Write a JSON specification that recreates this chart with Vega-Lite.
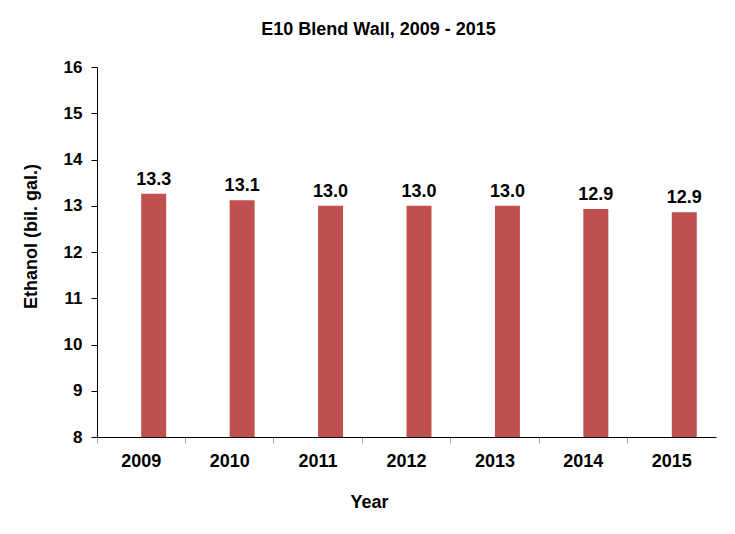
{
  "$schema": "https://vega.github.io/schema/vega-lite/v6.json",
  "autosize": {"type": "none"},
  "width": 619,
  "height": 370,
  "padding": {"left": 97, "top": 67, "right": 19, "bottom": 97},
  "background": "white",
  "title": {
    "text": "E10 Blend Wall, 2009 - 2015",
    "font": "Liberation Sans",
    "fontSize": 18,
    "fontWeight": "bold",
    "color": "black",
    "anchor": "middle",
    "frame": "group",
    "dx": -28,
    "baseline": "alphabetic",
    "offset": 5
  },
  "data": {
    "values": [
      {"year": "2009", "ethanol": 13.26},
      {"year": "2010", "ethanol": 13.12},
      {"year": "2011", "ethanol": 13.0},
      {"year": "2012", "ethanol": 13.0},
      {"year": "2013", "ethanol": 13.0},
      {"year": "2014", "ethanol": 12.93},
      {"year": "2015", "ethanol": 12.86}
    ]
  },
  "encoding": {
    "x": {
      "field": "year",
      "type": "ordinal",
      "scale": {"paddingInner": 0, "paddingOuter": 0},
      "axis": {
        "title": "Year",
        "labelAngle": 0,
        "bandPosition": 0,
        "labelFont": "Liberation Sans",
        "labelFontSize": 18,
        "labelFontWeight": "bold",
        "labelColor": "black",
        "labelPadding": 9,
        "tickSize": 6,
        "tickColor": "#a6a6a6",
        "domainColor": "black",
        "titleFont": "Liberation Sans",
        "titleFontSize": 18,
        "titleFontWeight": "bold",
        "titleColor": "black",
        "titleX": 272,
        "titleY": 70,
        "titleAlign": "center",
        "titleBaseline": "alphabetic",
        "grid": false
      }
    },
    "xOffset": {
      "datum": "B",
      "scale": {"domain": ["A", "B"], "paddingInner": 0, "paddingOuter": 0.77}
    },
    "y": {
      "field": "ethanol",
      "type": "quantitative",
      "scale": {"domain": [8, 16], "zero": false, "nice": false},
      "axis": {
        "title": "Ethanol (bil. gal.)",
        "values": [8, 9, 10, 11, 12, 13, 14, 15, 16],
        "format": "d",
        "labelFont": "Liberation Sans",
        "labelFontSize": 17,
        "labelFontWeight": "bold",
        "labelColor": "black",
        "labelPadding": 9,
        "tickSize": 6,
        "tickColor": "black",
        "domainColor": "black",
        "titleFont": "Liberation Sans",
        "titleFontSize": 18,
        "titleFontWeight": "bold",
        "titleColor": "black",
        "titleX": -61,
        "titleY": 169,
        "titleAlign": "center",
        "titleBaseline": "alphabetic",
        "grid": false
      }
    }
  },
  "layer": [
    {"mark": {"type": "bar", "color": "#C0504D", "clip": true}},
    {
      "mark": {
        "type": "text",
        "font": "Liberation Sans",
        "fontSize": 18,
        "fontWeight": "bold",
        "color": "black",
        "baseline": "alphabetic",
        "dy": -9
      },
      "encoding": {"text": {"field": "ethanol", "type": "quantitative", "format": ".1f"}}
    }
  ],
  "config": {"view": {"stroke": null}}
}
